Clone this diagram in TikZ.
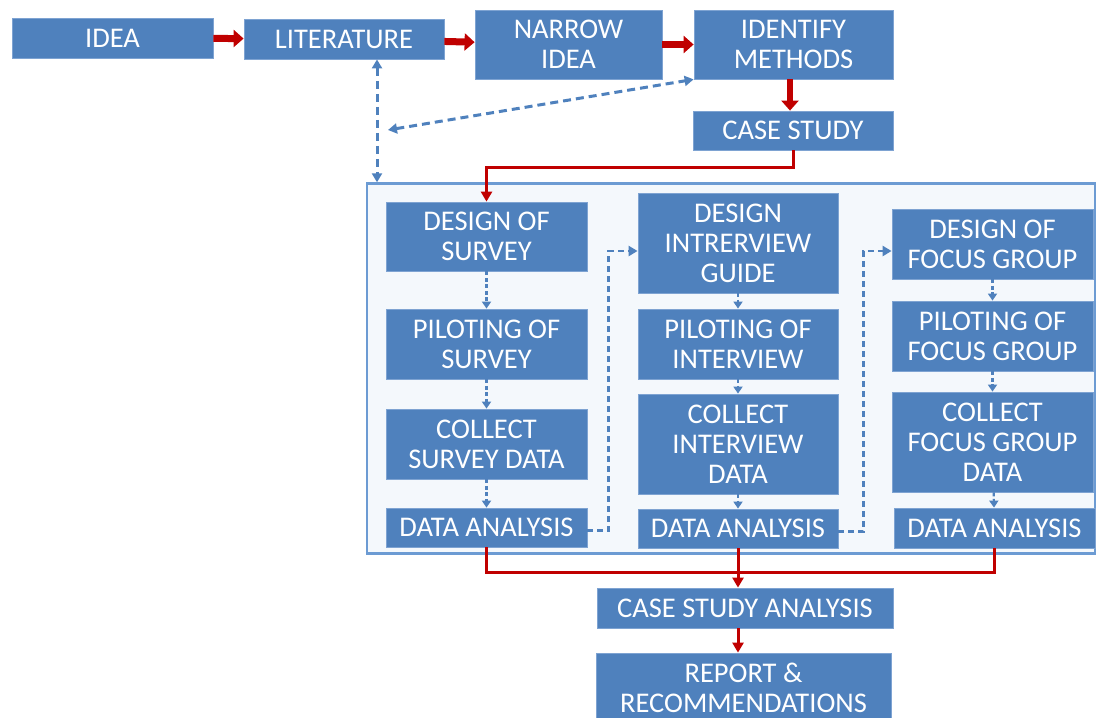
\documentclass[tikz,border=0pt]{standalone}
\usepackage{fontspec}
\setmainfont{Carlito}
\usetikzlibrary{arrows.meta}
\definecolor{boxblue}{HTML}{4F81BD}
\definecolor{boxedge}{HTML}{7EA3D2}
\definecolor{darkred}{HTML}{C00000}
\definecolor{dashblue}{HTML}{4F81BD}
\definecolor{panelfill}{HTML}{F4F8FC}
\definecolor{panelline}{HTML}{6C9BD3}
\newcommand\mybox[6]{\node[box, minimum width={(#4-#2)*1pt}, minimum height={(#5-#3)*1pt}] (#1) at ({(#2+#4)/2},{(#3+#5)/2}) {#6};}
\begin{document}
\begin{tikzpicture}[x=1pt,y=-1pt,
  box/.style={draw=boxedge, line width=0.8pt, fill=boxblue, text=white, inner sep=0pt, align=center, font=\fontsize{28.5}{30}\selectfont},
  panel/.style={draw=panelline, line width=2.4pt, fill=panelfill},
  bigred/.style={draw=darkred, line width=7pt, -{Triangle[length=10pt,width=17pt]}},
  redline/.style={draw=darkred, line width=3pt},
  redtip/.style={-{Triangle[length=10pt,width=11pt]}},
  bluedash/.style={draw=dashblue, line width=3pt, dash pattern=on 8pt off 5pt},
  smalldash/.style={draw=dashblue, line width=2.2pt, dash pattern=on 4pt off 2.5pt, -{Triangle[length=7pt,width=9pt]}},
  dashtip/.style={-{Triangle[length=9pt,width=10pt]}},
  bothtips/.style={{Triangle[length=9pt,width=10pt]}-{Triangle[length=9pt,width=10pt]}}
]
\useasboundingbox (0,0) rectangle (1096,718);
% container
\node[panel, minimum width=728pt, minimum height=370pt, inner sep=0pt] (panel) at (731,368.5) {};
% top row
\mybox{idea}{12}{18}{213}{58}{IDEA}
\mybox{lit}{244}{19}{444}{59}{LITERATURE}
\mybox{narrow}{475}{10}{662}{79}{NARROW\\IDEA}
\mybox{ident}{694}{10}{893}{79}{IDENTIFY\\METHODS}
\mybox{cs}{693}{111}{893}{150}{CASE STUDY}
% column 1
\mybox{ds}{386}{202}{587}{271}{DESIGN OF\\SURVEY}
\mybox{ps}{386}{309}{587}{379}{PILOTING OF\\SURVEY}
\mybox{cls}{386}{409}{587}{479}{COLLECT\\SURVEY DATA}
\mybox{da1}{386}{508}{587}{547}{DATA ANALYSIS}
% column 2
\mybox{dig}{638}{193}{838}{293}{DESIGN\\INTRERVIEW\\GUIDE}
\mybox{pi}{638}{309}{838}{379}{PILOTING OF\\INTERVIEW}
\mybox{ci}{638}{394}{838}{494}{COLLECT\\INTERVIEW\\DATA}
\mybox{da2}{638}{509}{838}{548}{DATA ANALYSIS}
% column 3
\mybox{dfg}{892}{209}{1093}{279}{DESIGN OF\\FOCUS GROUP}
\mybox{pfg}{892}{301}{1093}{371}{PILOTING OF\\FOCUS GROUP}
\mybox{cfg}{892}{392}{1093}{492}{COLLECT\\FOCUS GROUP\\DATA}
\mybox{da3}{894}{508}{1095}{548}{DATA ANALYSIS}
% bottom
\mybox{csa}{597}{588}{893}{628}{CASE STUDY ANALYSIS}
\mybox{rep}{596}{653}{891}{723}{REPORT \&\\RECOMMENDATIONS}
% coordinates
\coordinate (litx) at (377,0);
\coordinate (freeend) at (388,130);
\coordinate (bus) at (0,572);
\coordinate (redturn) at (0,167);
% top red arrows
\draw[bigred] (idea) -- (lit);
\draw[bigred] (lit) -- (narrow);
\draw[bigred] (narrow) -- (ident);
\draw[bigred, line width=6pt] (ident.south -| 790,0) -- (cs.north -| 790,0);
% case study to panel
\draw[redline, redtip] (cs.south) -- (redturn -| cs.south) -| (ds.north);
% blue dashed
\draw[bluedash, bothtips] (lit.south -| litx) -- (panel.north -| litx);
\draw[bluedash, bothtips] (freeend) -- (ident.south west);
% column arrows
\draw[smalldash] (ds) -- (ps);
\draw[smalldash] (ps) -- (cls);
\draw[smalldash] (cls) -- (da1);
\draw[smalldash] (dig) -- (pi);
\draw[smalldash] (pi) -- (ci);
\draw[smalldash] (ci) -- (da2);
\draw[smalldash] (dfg) -- (pfg);
\draw[smalldash] (pfg) -- (cfg);
\draw[smalldash] (cfg) -- (da3);
% column links
\draw[bluedash, line width=2.4pt, dash pattern=on 6pt off 4pt, dashtip] ([yshift=-3pt]da1.east) -- ++(21,0) |- ([yshift=-8pt]dig.west);
\draw[bluedash, line width=2.4pt, dash pattern=on 6pt off 4pt, dashtip] ([yshift=-3pt]da2.east) -- ++(25,0) |- ([yshift=-7pt]dfg.west);
% bottom red
\draw[redline] (da1.south) |- (bus -| da3.south) -- (da3.south);
\draw[redline, redtip] (da2.south) -- (da2.south |- csa.north);
\draw[redline, redtip] (csa.south -| da2.south) -- (rep.north -| da2.south);
\end{tikzpicture}
\end{document}
